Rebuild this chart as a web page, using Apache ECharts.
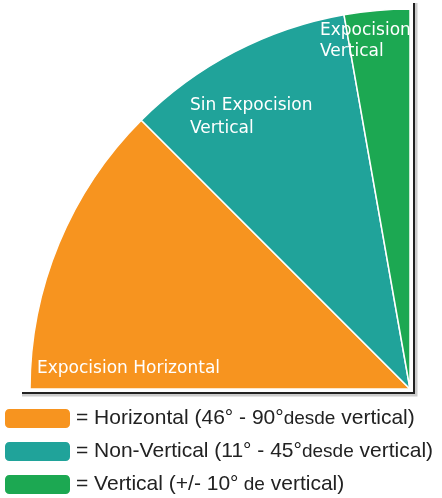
<!DOCTYPE html>
<html>
<head>
<meta charset="utf-8">
<script src="https://cdn.jsdelivr.net/npm/echarts@6/dist/echarts.min.js"></script>
<style>
  html, body { margin: 0; padding: 0; background: #fff; }
  #container { width: 442px; height: 498px; }
</style>
</head>
<body>
<div id="container"></div>
<script>
// sectores en grados (desde la horizontal hasta la vertical)
var categories = ['Horizontal', 'Non-Vertical', 'Vertical'];
var values = [45, 35, 10];
var colors = ['#f7941f', '#20a39a', '#1ca852'];
var sliceLabels = ['Expocision Horizontal', 'Sin Expocision\nVertical', 'Expocision\nVertical'];
var legendRanges = ['(46° - 90°', '(11° - 45°', '(+/- 10°'];
var legendSmall = ['desde', 'desde', ' de'];

var dom = document.getElementById('container');
var myChart = echarts.init(dom);

var pieData = categories.map(function (c, i) {
    return { name: c, value: values[i], itemStyle: { color: colors[i] } };
});

var option = {
    backgroundColor: '#fff',
    animation: false,
    legend: {
        orient: 'vertical',
        left: 3,
        top: 407,
        height: 100,
        padding: 0,
        itemWidth: 67,
        itemHeight: 21,
        itemGap: 10,
        icon: 'roundRect',
        data: categories,
        formatter: function (name) {
            var i = categories.indexOf(name);
            return '{a|= ' + name + ' ' + legendRanges[i] + '}{b|' + legendSmall[i] + '}{a| vertical)}';
        },
        textStyle: {
            rich: {
                a: { fontFamily: 'Liberation Sans', fontSize: 21, lineHeight: 21, color: '#222' },
                b: { fontFamily: 'Liberation Sans', fontSize: 19, lineHeight: 21, color: '#222' }
            }
        }
    },
    series: [
        {
            type: 'pie',
            center: [410, 389],
            radius: 380,
            startAngle: 180,
            endAngle: 90,
            clockwise: true,
            label: { show: false },
            labelLine: { show: false },
            emphasis: { disabled: true },
            itemStyle: { borderColor: '#fff', borderWidth: 1.5 },
            data: pieData
        }
    ],
    graphic: [
        { type: 'polyline', z: 100, shape: { points: [[22, 395], [416, 395], [416, 3]] },
          style: { stroke: '#ccc', lineWidth: 3, fill: null } },
        { type: 'polyline', z: 101, shape: { points: [[22, 393], [414, 393], [414, 3]] },
          style: { stroke: '#222', lineWidth: 2, fill: null } },
        { type: 'text', z: 100, left: 37, top: 360,
          style: { text: sliceLabels[0], fill: '#fff', font: '17px "DejaVu Sans"' } },
        { type: 'text', z: 100, left: 190, top: 94,
          style: { text: sliceLabels[1], fill: '#fff', font: '17px "DejaVu Sans"', lineHeight: 23 } },
        { type: 'text', z: 100, left: 320, top: 20,
          style: { text: sliceLabels[2], fill: '#fff', font: '17px "DejaVu Sans"', lineHeight: 21 } }
    ]
};

myChart.setOption(option);
</script>
</body>
</html>
